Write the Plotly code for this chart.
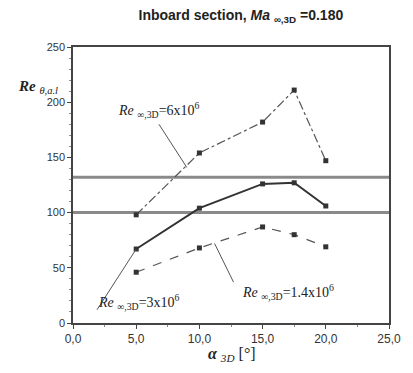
import plotly.graph_objects as go

alpha = [5.0, 10.0, 15.0, 17.5, 20.0]
re_6e6 = [98, 154, 182, 211, 147]
re_3e6 = [67, 104, 126, 127, 106]
re_14e6 = [46, 68, 87, 80, 69]
ref_lines = [132, 100]

x_ticks = [0, 5, 10, 15, 20, 25]
x_tick_labels = ["0,0", "5,0", "10,0", "15,0", "20,0", "25,0"]
y_ticks = [0, 50, 100, 150, 200, 250]

# annotation labels: (text, text x, text y, leader x pair, leader y pair)
labels = [
    ("<i>Re</i> <sub>∞,3D</sub>=6x10<sup>6</sup>", 6.8, 193, [6.8, 9.0], [180, 141]),
    ("<i>Re</i> <sub>∞,3D</sub>=3x10<sup>6</sup>", 5.2, 19, [1.9, 5.0], [12, 67]),
    ("<i>Re</i> <sub>∞,3D</sub>=1.4x10<sup>6</sup>", 17.0, 28, [12.7, 11.2], [37, 72]),
]

fig = go.Figure()
for v in ref_lines:
    fig.add_trace(go.Scatter(x=[0, 25], y=[v, v], mode="lines",
                             line=dict(color="#8a8a8a", width=3), showlegend=False, hoverinfo="skip"))

fig.add_trace(go.Scatter(x=alpha, y=re_6e6, mode="lines+markers",
                         line=dict(color="#555", width=1.2, dash="dashdot"),
                         marker=dict(symbol="square", size=5, color="#333"), showlegend=False))
fig.add_trace(go.Scatter(x=alpha, y=re_3e6, mode="lines+markers",
                         line=dict(color="#333", width=2),
                         marker=dict(symbol="square", size=5, color="#333"), showlegend=False))
fig.add_trace(go.Scatter(x=alpha, y=re_14e6, mode="lines+markers",
                         line=dict(color="#555", width=1.2, dash="dash"),
                         marker=dict(symbol="square", size=5, color="#333"), showlegend=False))

for text, tx, ty, lx, ly in labels:
    fig.add_trace(go.Scatter(x=lx, y=ly, mode="lines", line=dict(color="#555", width=1),
                             showlegend=False, hoverinfo="skip"))
    fig.add_annotation(x=tx, y=ty, text=text, showarrow=False,
                       font=dict(family="Liberation Serif, Times New Roman", size=14, color="#222"))

fig.add_annotation(xref="paper", yref="paper", x=-0.18, y=0.895, xanchor="left", yanchor="top",
                   text="<b><i>Re</i></b> <i><sub>θ,a.l</sub></i>", showarrow=False,
                   font=dict(family="Liberation Serif, Times New Roman", size=15, color="#222"))
fig.add_annotation(xref="paper", yref="paper", x=0.503, y=-0.155, xanchor="center", yanchor="bottom",
                   text="<b><i>α</i></b> <i><sub>3D</sub></i> [°]", showarrow=False,
                   font=dict(family="Liberation Serif, Times New Roman", size=16, color="#222"))

fig.update_layout(
    width=405, height=365,
    margin=dict(l=65, r=16, t=39, b=50),
    paper_bgcolor="white", plot_bgcolor="white",
    title=dict(text="<b>Inboard section, <i>Ma</i> <sub>∞,3D</sub> =0.180</b>",
               x=0.575, xanchor="center", y=0.981, yanchor="middle",
               font=dict(family="Liberation Sans, Arial", size=14, color="#222")),
    xaxis=dict(range=[0, 25], tickvals=x_ticks, ticktext=x_tick_labels,
               showgrid=False, zeroline=False, showline=True, mirror=True,
               linecolor="#444", linewidth=1.5, ticks="outside", ticklen=4, tickcolor="#444",
               minor=dict(ticks="outside", ticklen=2, dtick=2.5, tickcolor="#888"),
               tickfont=dict(family="Liberation Sans, Arial", size=12, color="#333")),
    yaxis=dict(range=[0, 250], tickvals=y_ticks,
               showgrid=False, zeroline=False, showline=True, mirror=True,
               linecolor="#444", linewidth=1.5, ticks="outside", ticklen=4, tickcolor="#444",
               minor=dict(ticks="outside", ticklen=2, dtick=10, tickcolor="#888"),
               tickfont=dict(family="Liberation Sans, Arial", size=11, color="#333")),
)
fig.write_html("out.html")
